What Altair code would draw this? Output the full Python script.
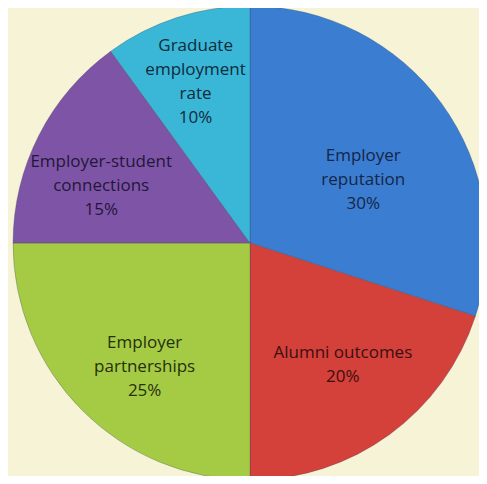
import altair as alt
import pandas as pd

categories = ["Employer\nreputation", "Alumni outcomes", "Employer\npartnerships",
              "Employer-student\nconnections", "Graduate\nemployment\nrate"]
values = [30, 20, 25, 15, 10]
slice_colors = ["#3b7dd0", "#d4403a", "#a5cb45", "#7e55a6", "#3ab6d6"]
text_colors = ["#14264a", "#3a0f0f", "#25300c", "#24163a", "#0f2c3c"]

df = pd.DataFrame({
    "category": categories,
    "value": values,
    "idx": list(range(len(categories))),
})
df["label"] = [f"{c}\n{v}%" for c, v in zip(categories, values)]
df["nlines"] = [lbl.count("\n") + 1 for lbl in df["label"]]
df["tcolor"] = text_colors

CX, CY, R = 242, 235, 237
LH = 24
# fine vertical nudge per label block height (PowerPoint "best fit" look)
NUDGE = {2: -6, 3: 19, 4: 6}

base = alt.Chart(df).encode(
    theta=alt.Theta("value:Q", stack=True),
    order=alt.Order("idx:Q"),
)

pie = base.mark_arc(outerRadius=R, x=CX, y=CY, stroke="#2a3a55", strokeWidth=0.8, strokeOpacity=0.35).encode(
    color=alt.Color("category:N", scale=alt.Scale(domain=categories, range=slice_colors), legend=None),
)

layers = [pie]
for n in sorted(set(df["nlines"])):
    layers.append(
        base.mark_text(x=CX, y=CY, dy=-(n - 1) * LH / 2 + NUDGE.get(n, 0), font="Open Sans", fontSize=17,
                       lineBreak="\n", lineHeight=LH, align="center", baseline="middle").encode(
            text=alt.condition(f"datum.nlines == {n}", "label:N", alt.value("")),
            radius=alt.Radius("value:Q", scale=alt.Scale(type="linear", zero=False, domain=[10, 30], range=[176, 140])),
            color=alt.Color("tcolor:N", scale=None),
        )
    )

chart = alt.layer(*layers).properties(
    width=471, height=468, padding=0, autosize=alt.AutoSizeParams(type="none"),
    background="#f6f3d7",
).configure_view(stroke=None)

chart.save("out.html", embed_options={"renderer": "svg", "actions": False})
